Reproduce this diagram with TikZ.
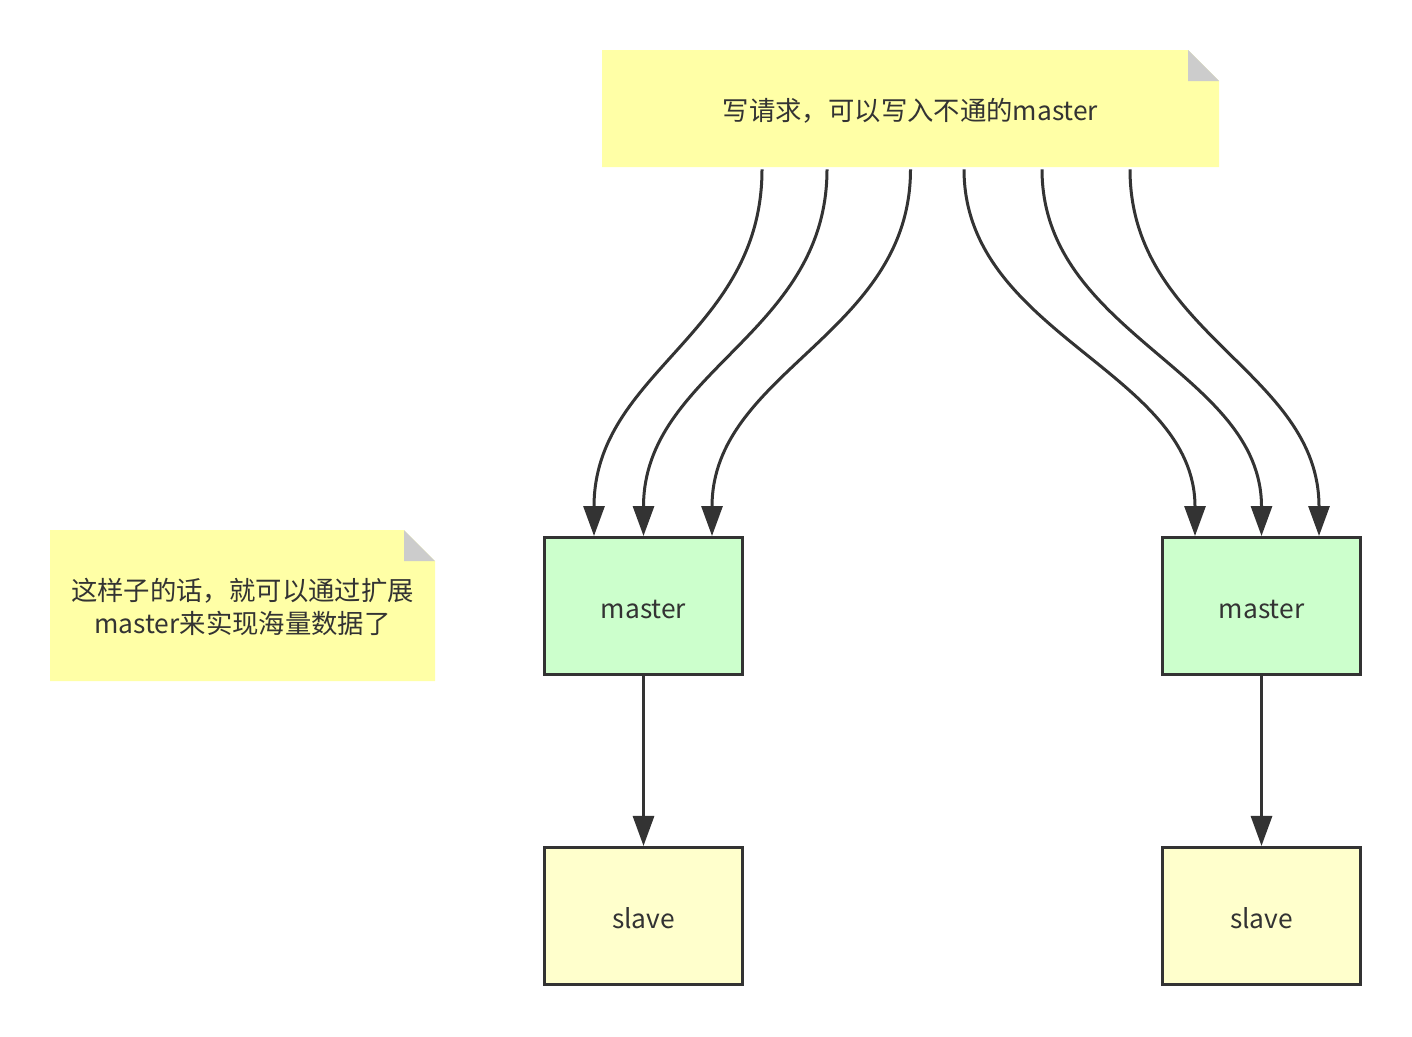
\documentclass[tikz,border=0pt]{standalone}
\usepackage{fontspec}
\setmainfont{Noto Sans CJK SC}
\usetikzlibrary{
    positioning,
    arrows.meta,
    backgrounds
}
\definecolor{notefill}{HTML}{FFFFA6}
\definecolor{notefold}{HTML}{CCCCCC}
\definecolor{masterfill}{HTML}{CCFFCC}
\definecolor{slavefill}{HTML}{FFFFCC}
\definecolor{ink}{HTML}{333333}
\tikzset{
    >={Triangle[length=0.6cm,width=0.42cm]},
    box/.style={
        draw=ink,
        line width=0.06cm,
        minimum width=3.96cm,
        minimum height=2.74cm,
        inner sep=0pt,
        text height=1.45em,
        text depth=0pt,
        text=ink
    },
    master/.style={box, fill=masterfill},
    slave/.style={box, fill=slavefill},
    note/.style={
        inner sep=0pt,
        align=center,
        text=ink
    },
    flow/.style={
        ->,
        draw=ink,
        line width=0.06cm
    }
}

\begin{document}
\begin{tikzpicture}[
    x=0.02cm,
    y=-0.02cm,
    font=\fontsize{15}{18.5}\selectfont
]

    \useasboundingbox (0,0) rectangle (1412,1036);

    % Notas
    \node[note, minimum width=12.34cm, minimum height=2.34cm]
        (wr) at (910.5,110.5) {写请求，可以写入不通的master};
    \node[note, minimum width=7.7cm, minimum height=3.02cm]
        (hint) at (242.5,607) {这样子的话，就可以通过扩展\\master来实现海量数据了};

    \begin{scope}[on background layer]
        \fill[notefill] (602,50) -- (1188,50) -- (1219,81)
            -- (1219,167) -- (602,167) -- cycle;
        \fill[notefold] (1188,50) -- (1188,81) -- (1219,81) -- cycle;
        \fill[notefill] (50,530) -- (404,530) -- (435,561)
            -- (435,681) -- (50,681) -- cycle;
        \fill[notefold] (404,530) -- (404,561) -- (435,561) -- cycle;
    \end{scope}

    % Nodos
    \node[master] (m1) at (643.5,606)  {master};
    \node[master] (m2) at (1261.5,606) {master};

    \node[slave, below=3.4cm of m1] (s1) {slave};
    \node[slave, below=3.4cm of m2] (s2) {slave};

    % Escrituras
    \foreach \a/\b/\t in {-148.5/-49.5/m1, -83.5/0/m1, 0/68.5/m1,
                          53.5/-66.5/m2, 131.5/0/m2, 219.5/57.5/m2}
        \draw[flow] ([shift={(\a,0)}]wr.south)
            .. controls +(0,165) and +(0,-165) .. ([shift={(\b,0)}]\t.north);

    % Replicas
    \draw[flow] (m1) -- (s1);
    \draw[flow] (m2) -- (s2);

\end{tikzpicture}
\end{document}
